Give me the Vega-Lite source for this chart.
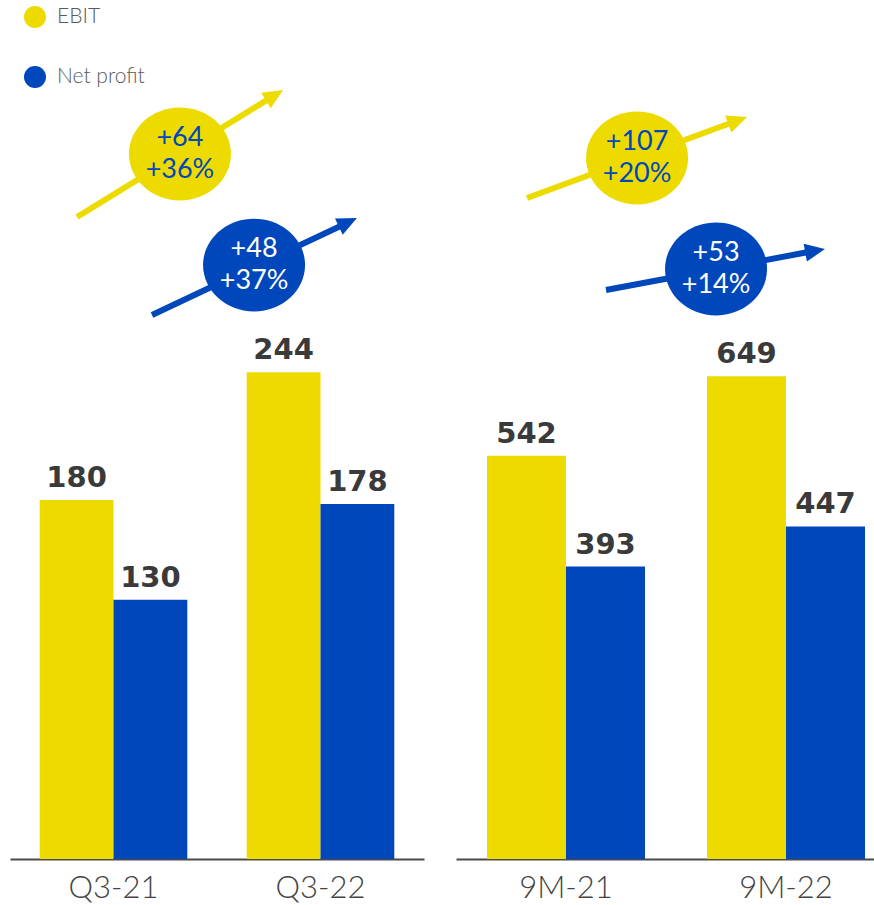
{
  "$schema": "https://vega.github.io/schema/vega-lite/v6.json",
  "padding": {"left": 10, "right": 0, "top": 0, "bottom": 0},
  "autosize": {"type": "pad"},
  "spacing": 32,
  "background": "white",
  "config": {
    "view": {"stroke": null},
    "font": "Lato",
    "axis": {"domainColor": "#4a4a4a", "domainWidth": 2, "ticks": false, "grid": false, "labelFont": "Lato", "labelFontSize": 31, "labelFontWeight": 300, "labelColor": "#444444", "labelPadding": 14}
  },
  "datasets": {
    "bars": [
      {"panel": "Q", "period": "Q3-21", "series": "EBIT", "value": 180},
      {"panel": "Q", "period": "Q3-21", "series": "Net profit", "value": 130},
      {"panel": "Q", "period": "Q3-22", "series": "EBIT", "value": 244},
      {"panel": "Q", "period": "Q3-22", "series": "Net profit", "value": 178},
      {"panel": "9M", "period": "9M-21", "series": "EBIT", "value": 542},
      {"panel": "9M", "period": "9M-21", "series": "Net profit", "value": 393},
      {"panel": "9M", "period": "9M-22", "series": "EBIT", "value": 649},
      {"panel": "9M", "period": "9M-22", "series": "Net profit", "value": 447}
    ],
    "bubbles": [
      {"panel": "Q", "series": "EBIT", "u": 0.821, "v": 353.4, "label": "+64\n+36%"},
      {"panel": "Q", "series": "Net profit", "u": 1.179, "v": 297.7, "label": "+48\n+37%"},
      {"panel": "9M", "series": "EBIT", "u": 0.823, "v": 942.2, "label": "+107\n+20%"},
      {"panel": "9M", "series": "Net profit", "u": 1.182, "v": 793.0, "label": "+53\n+14%"}
    ],
    "arrows": [
      {"panel": "Q", "series": "EBIT", "x0": 0.324, "y0": 321.8, "x1": 1.278, "y1": 382.8, "xt": 1.319, "yt": 385.5, "angle": -31.65},
      {"panel": "Q", "series": "Net profit", "x0": 0.686, "y0": 272.7, "x1": 1.633, "y1": 319.1, "xt": 1.676, "yt": 321.3, "angle": -25.33},
      {"panel": "9M", "series": "EBIT", "x0": 0.323, "y0": 888.4, "x1": 1.280, "y1": 992.6, "xt": 1.323, "yt": 997.3, "angle": -20.21},
      {"panel": "9M", "series": "Net profit", "x0": 0.682, "y0": 764.8, "x1": 1.633, "y1": 817.5, "xt": 1.677, "yt": 819.9, "angle": -10.60}
    ]
  },
  "resolve": {"scale": {"color": "independent", "xOffset": "independent", "x": "independent", "y": "independent"}, "legend": {"color": "independent"}},
  "hconcat": [
    {
      "width": 414,
      "height": 859,
      "resolve": {"scale": {"x": "independent"}},
      "layer": [
        {
          "data": {"name": "bars"},
          "transform": [{"filter": "datum.panel === 'Q'"}],
          "encoding": {
            "x": {"field": "period", "type": "nominal", "title": null, "sort": ["Q3-21", "Q3-22"], "scale": {"paddingInner": 0.287, "paddingOuter": 0.1435}, "axis": {"labelAngle": 0}},
            "xOffset": {"field": "series", "type": "nominal", "sort": ["EBIT", "Net profit"]},
            "y": {"field": "value", "type": "quantitative", "scale": {"domain": [0, 430.6], "nice": false}, "axis": null}
          },
          "layer": [
            {
              "mark": {"type": "bar"},
              "encoding": {
                "color": {"field": "series", "type": "nominal", "scale": {"domain": ["EBIT", "Net profit"], "range": ["#EDDB00", "#0047BB"]},
                  "legend": {"title": null, "orient": "none", "legendX": 14, "legendY": 6, "padding": 0, "symbolType": "circle", "symbolSize": 484, "symbolStrokeWidth": 0, "labelFont": "Lato", "labelFontSize": 21, "labelFontWeight": 300, "labelColor": "#5a5a5a", "labelOffset": 11, "rowPadding": 38, "direction": "vertical"}}
              }
            },
            {
              "mark": {"type": "text", "dy": -13, "baseline": "alphabetic", "align": "center", "font": "DejaVu Sans", "fontSize": 29, "fontWeight": "bold", "color": "#3a3a3a"},
              "encoding": {"text": {"field": "value", "type": "quantitative"}}
            }
          ]
        },
        {
          "data": {"name": "arrows"},
          "transform": [{"filter": "datum.panel === 'Q'"}],
          "mark": {"type": "rule", "strokeWidth": 6},
          "encoding": {
            "x": {"field": "x0", "type": "quantitative", "scale": {"domain": [0, 2], "nice": false, "zero": false}, "axis": null},
            "x2": {"field": "x1"},
            "y": {"field": "y0", "type": "quantitative", "axis": null},
            "y2": {"field": "y1"},
            "color": {"field": "series", "type": "nominal"}
          }
        },
        {
          "data": {"name": "arrows"},
          "transform": [{"filter": "datum.panel === 'Q'"}],
          "mark": {"type": "point", "shape": "M0,0 L-2,-0.9 L-2,0.9 Z", "filled": true, "size": 400, "opacity": 1, "strokeWidth": 0},
          "encoding": {
            "x": {"field": "xt", "type": "quantitative", "scale": {"domain": [0, 2], "nice": false, "zero": false}, "axis": null},
            "y": {"field": "yt", "type": "quantitative", "axis": null},
            "angle": {"field": "angle", "type": "quantitative", "scale": null},
            "color": {"field": "series", "type": "nominal"}
          }
        },
        {
          "data": {"name": "bubbles"},
          "transform": [{"filter": "datum.panel === 'Q'"}],
          "mark": {"type": "point", "shape": "M1,0 C1,0.5026 0.5523,0.91 0,0.91 C-0.5523,0.91 -1,0.5026 -1,0 C-1,-0.5026 -0.5523,-0.91 0,-0.91 C0.5523,-0.91 1,-0.5026 1,0 Z", "filled": true, "size": 10404, "opacity": 1, "strokeWidth": 0},
          "encoding": {
            "x": {"field": "u", "type": "quantitative", "scale": {"domain": [0, 2], "nice": false, "zero": false}, "axis": null},
            "y": {"field": "v", "type": "quantitative", "axis": null},
            "color": {"field": "series", "type": "nominal"}
          }
        },
        {
          "data": {"name": "bubbles"},
          "transform": [{"filter": "datum.panel === 'Q'"}],
          "mark": {"type": "text", "align": "center", "baseline": "middle", "dy": -16, "lineBreak": "\n", "lineHeight": 32, "font": "Lato", "fontSize": 27, "fontWeight": 400},
          "encoding": {
            "x": {"field": "u", "type": "quantitative", "scale": {"domain": [0, 2], "nice": false, "zero": false}, "axis": null},
            "y": {"field": "v", "type": "quantitative", "axis": null},
            "text": {"field": "label", "type": "nominal"},
            "color": {"condition": {"test": "datum.series === 'EBIT'", "value": "#0047BB"}, "value": "#ffffff"}
          }
        }
      ]
    },
    {
      "width": 418,
      "height": 859,
      "resolve": {"scale": {"x": "independent"}},
      "layer": [
        {
          "data": {"name": "bars"},
          "transform": [{"filter": "datum.panel === '9M'"}],
          "encoding": {
            "x": {"field": "period", "type": "nominal", "title": null, "sort": ["9M-21", "9M-22"], "scale": {"paddingInner": 0.2818, "paddingOuter": 0.0909, "align": 0.775}, "axis": {"labelAngle": 0}},
            "xOffset": {"field": "series", "type": "nominal", "sort": ["EBIT", "Net profit"]},
            "y": {"field": "value", "type": "quantitative", "scale": {"domain": [0, 1154.6], "nice": false}, "axis": null}
          },
          "layer": [
            {
              "mark": {"type": "bar"},
              "encoding": {
                "color": {"field": "series", "type": "nominal", "scale": {"domain": ["EBIT", "Net profit"], "range": ["#EDDB00", "#0047BB"]}, "legend": null}
              }
            },
            {
              "mark": {"type": "text", "dy": -13, "baseline": "alphabetic", "align": "center", "font": "DejaVu Sans", "fontSize": 29, "fontWeight": "bold", "color": "#3a3a3a"},
              "encoding": {"text": {"field": "value", "type": "quantitative"}}
            }
          ]
        },
        {
          "data": {"name": "arrows"},
          "transform": [{"filter": "datum.panel === '9M'"}],
          "mark": {"type": "rule", "strokeWidth": 6},
          "encoding": {
            "x": {"field": "x0", "type": "quantitative", "scale": {"domain": [0, 1.9], "nice": false, "zero": false}, "axis": null},
            "x2": {"field": "x1"},
            "y": {"field": "y0", "type": "quantitative", "axis": null},
            "y2": {"field": "y1"},
            "color": {"field": "series", "type": "nominal", "legend": null}
          }
        },
        {
          "data": {"name": "arrows"},
          "transform": [{"filter": "datum.panel === '9M'"}],
          "mark": {"type": "point", "shape": "M0,0 L-2,-0.9 L-2,0.9 Z", "filled": true, "size": 400, "opacity": 1, "strokeWidth": 0},
          "encoding": {
            "x": {"field": "xt", "type": "quantitative", "scale": {"domain": [0, 1.9], "nice": false, "zero": false}, "axis": null},
            "y": {"field": "yt", "type": "quantitative", "axis": null},
            "angle": {"field": "angle", "type": "quantitative", "scale": null},
            "color": {"field": "series", "type": "nominal", "legend": null}
          }
        },
        {
          "data": {"name": "bubbles"},
          "transform": [{"filter": "datum.panel === '9M'"}],
          "mark": {"type": "point", "shape": "M1,0 C1,0.5026 0.5523,0.91 0,0.91 C-0.5523,0.91 -1,0.5026 -1,0 C-1,-0.5026 -0.5523,-0.91 0,-0.91 C0.5523,-0.91 1,-0.5026 1,0 Z", "filled": true, "size": 10404, "opacity": 1, "strokeWidth": 0},
          "encoding": {
            "x": {"field": "u", "type": "quantitative", "scale": {"domain": [0, 1.9], "nice": false, "zero": false}, "axis": null},
            "y": {"field": "v", "type": "quantitative", "axis": null},
            "color": {"field": "series", "type": "nominal", "legend": null}
          }
        },
        {
          "data": {"name": "bubbles"},
          "transform": [{"filter": "datum.panel === '9M'"}],
          "mark": {"type": "text", "align": "center", "baseline": "middle", "dy": -16, "lineBreak": "\n", "lineHeight": 32, "font": "Lato", "fontSize": 27, "fontWeight": 400},
          "encoding": {
            "x": {"field": "u", "type": "quantitative", "scale": {"domain": [0, 1.9], "nice": false, "zero": false}, "axis": null},
            "y": {"field": "v", "type": "quantitative", "axis": null},
            "text": {"field": "label", "type": "nominal"},
            "color": {"condition": {"test": "datum.series === 'EBIT'", "value": "#0047BB"}, "value": "#ffffff"}
          }
        }
      ]
    }
  ]
}
